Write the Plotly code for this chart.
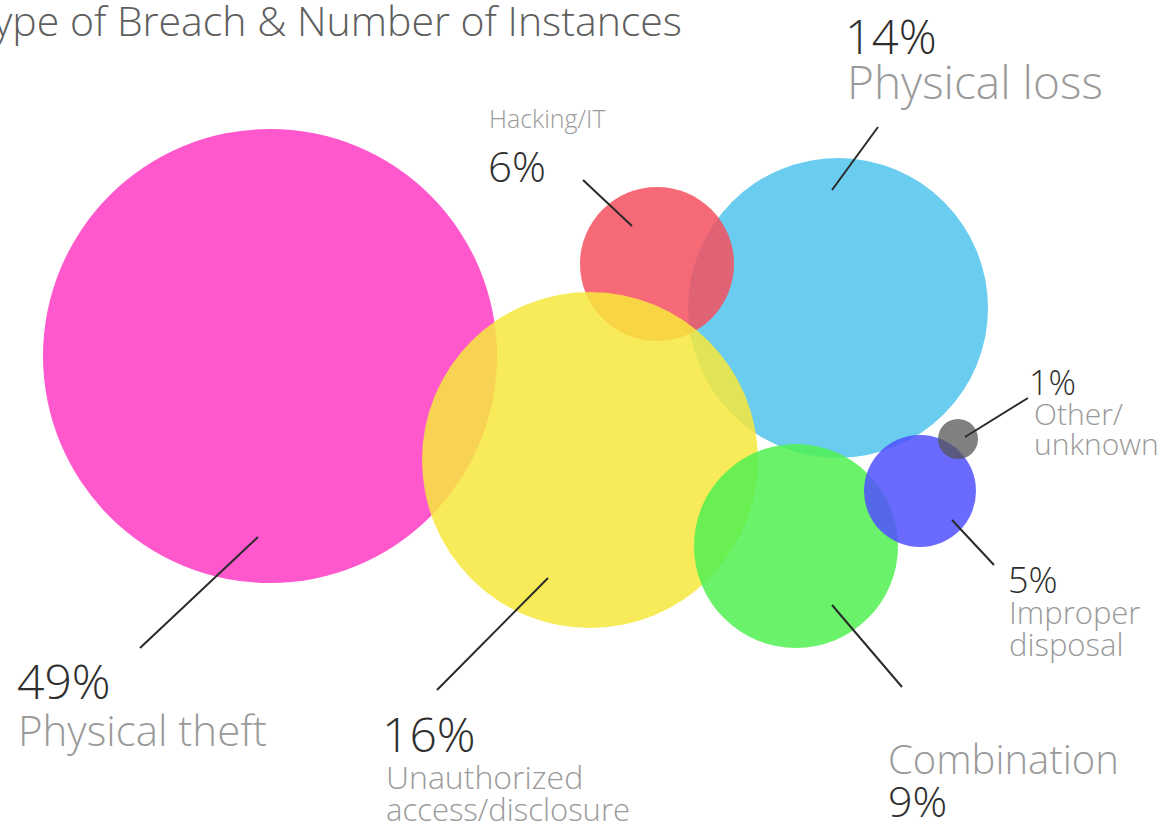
import plotly.graph_objects as go

# ---- data ----
categories = ["Physical theft", "Unauthorized access/disclosure", "Hacking/IT",
              "Physical loss", "Combination", "Improper disposal", "Other/unknown"]
percents = [49, 16, 6, 14, 9, 5, 1]
title_text = "Type of Breach & Number of Instances"

# ---- layout (pixel-space placement) ----
cx = [270, 590, 657, 838, 796, 920, 958]
cy = [356, 460, 264, 308, 546, 491, 439]
radius = [227, 168, 77, 150, 102, 56, 20]
colors = ["rgba(255,70,200,0.9)", "rgba(247,232,60,0.85)", "rgba(245,80,95,0.85)",
          "rgba(80,195,235,0.85)", "rgba(80,240,80,0.85)", "rgba(80,80,255,0.85)",
          "rgba(85,85,85,0.75)"]
draw_order = [0, 3, 2, 1, 4, 5, 6]

# leader lines: (x0, y0, x1, y1)
leaders = [(258, 537, 140, 648), (548, 578, 437, 690), (632, 226, 583, 180),
           (832, 190, 878, 127), (832, 605, 902, 687), (952, 520, 994, 565),
           (965, 437, 1028, 398)]

FONT = "Open Sans"
DARK = "#2e2e2e"
GREY = "#9a9a9a"

fig = go.Figure()
for i in draw_order:
    fig.add_trace(go.Scatter(
        x=[cx[i]], y=[cy[i]], mode="markers",
        marker=dict(size=2 * radius[i], color=colors[i], line=dict(width=0)),
        hoverinfo="text", text=[f"{categories[i]}: {percents[i]}%"], showlegend=False))

for (x0, y0, x1, y1) in leaders:
    fig.add_trace(go.Scatter(x=[x0, x1], y=[y0, y1], mode="lines",
                             line=dict(color="#2a2a2a", width=2),
                             hoverinfo="skip", showlegend=False))

ann = []
def add(text, x, y, size, color, ref="x"):
    ann.append(dict(text=text, x=x, y=y, xref=ref, yref="y", xanchor="left",
                    yanchor="middle", showarrow=False, align="left", borderpad=0,
                    font=dict(family=FONT, size=size, color=color, weight=300)))

# title (its first letter is cut by the left edge, as in the source)
add(title_text, -29 / 1174, 20, 41, "#5e5e5e", ref="paper")
# Physical loss
add(f"{percents[3]}%", 844, 36, 47, DARK)
add(categories[3], 846, 81, 46, GREY)
# Hacking
add(categories[2], 488, 118, 25, GREY)
add(f"{percents[2]}%", 487, 165, 42, DARK)
# Other
add(f"{percents[6]}%", 1028, 382, 34, DARK)
add("Other/", 1033, 413, 30, GREY)
add("unknown", 1033, 443, 30, GREY)
# Improper
add(f"{percents[5]}%", 1007, 579, 36, DARK)
add("Improper", 1008, 612, 31, GREY)
add("disposal", 1008, 644, 31, GREY)
# Physical theft
add(f"{percents[0]}%", 16, 680, 48, DARK)
add(categories[0], 17, 729, 42, GREY)
# Unauthorized
add(f"{percents[1]}%", 381, 733, 48, DARK)
add("Unauthorized", 385, 776, 32, GREY)
add("access/disclosure", 385, 809, 31, GREY)
# Combination
add(categories[4], 887, 758, 40, GREY)
add(f"{percents[4]}%", 887, 800, 43, DARK)

fig.update_layout(
    width=1174, height=831, margin=dict(l=0, r=0, t=0, b=0),
    paper_bgcolor="white", plot_bgcolor="white",
    xaxis=dict(range=[0, 1174], visible=False, fixedrange=True),
    yaxis=dict(range=[831, 0], visible=False, fixedrange=True),
    annotations=ann)

fig.write_html("out.html", config={"displayModeBar": False},
               post_script="document.body.style.margin='0';")
